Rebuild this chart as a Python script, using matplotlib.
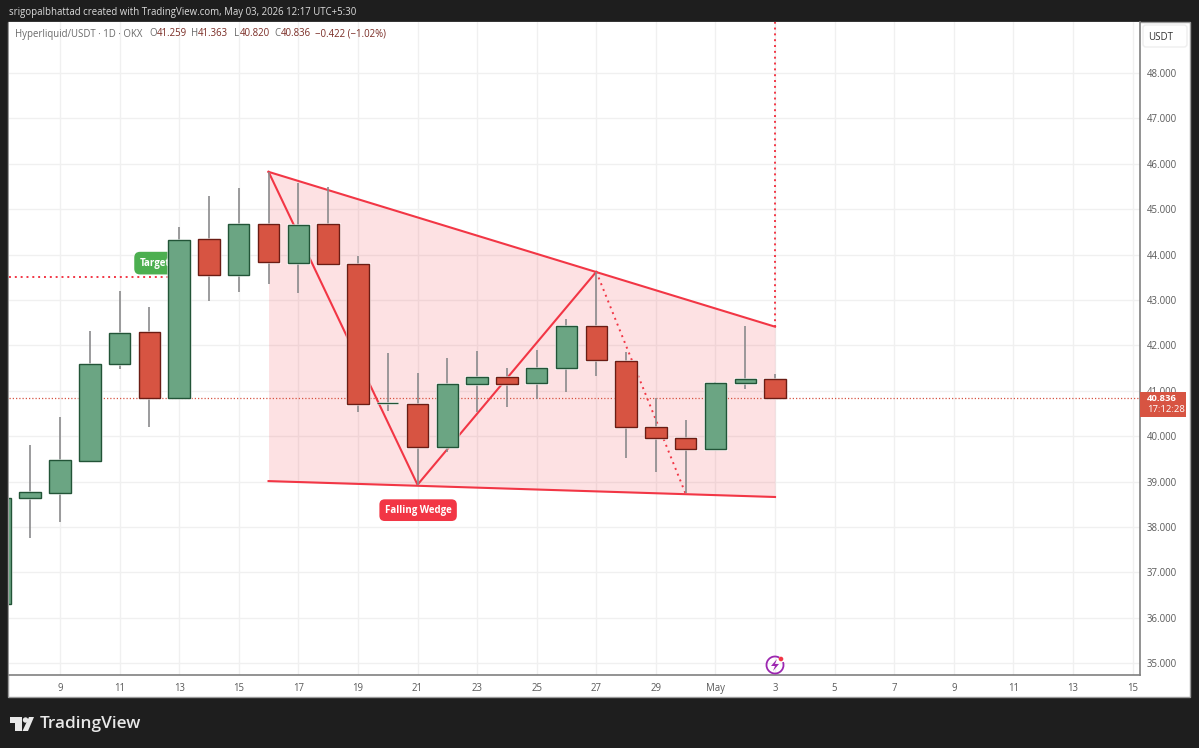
import matplotlib
matplotlib.use('Agg')
import matplotlib.pyplot as plt
from matplotlib.patches import Rectangle, FancyBboxPatch, Polygon, Circle, Arc
from matplotlib.transforms import Affine2D

plt.rcParams['font.family'] = ['Open Sans', 'DejaVu Sans']

# days are counted from 1 April, so 31 is 1 May
days = list(range(7, 34))
opens = [36.30, 38.64, 38.75, 39.45, 41.59, 42.30, 40.84, 44.34, 43.55, 44.67, 43.82, 44.67, 43.80, 40.72,
         40.71, 39.76, 41.15, 41.30, 41.17, 41.50, 42.43, 41.66, 40.20, 39.96, 39.72, 41.17, 41.259]
highs = [38.70, 39.81, 40.42, 42.32, 43.20, 42.85, 44.60, 45.29, 45.47, 45.82, 45.58, 45.49, 43.97, 41.83,
         41.39, 41.72, 41.88, 41.50, 41.90, 42.58, 43.62, 41.85, 40.84, 40.36, 41.20, 42.43, 41.363]
lows = [36.10, 37.76, 38.11, 39.45, 41.48, 40.20, 40.82, 42.98, 43.18, 43.35, 43.15, 43.77, 40.53, 40.55,
        38.93, 39.65, 40.53, 40.64, 40.82, 40.97, 41.33, 39.52, 39.21, 38.75, 39.72, 41.04, 40.820]
closes = [38.64, 38.77, 39.48, 41.59, 42.27, 40.84, 44.32, 43.55, 44.67, 43.84, 44.65, 43.80, 40.71, 40.74,
          39.76, 41.15, 41.30, 41.15, 41.50, 42.43, 41.68, 40.20, 39.96, 39.72, 41.17, 41.26, 40.836]

wedge_top_x = [16, 33]
wedge_top_y = [45.82, 42.41]
wedge_bot_x = [16, 33]
wedge_bot_y = [39.01, 38.66]
swing_x = [16, 21, 27]
swing_y = [45.82, 38.93, 43.62]
dotted_x = [27, 30]
dotted_y = [43.62, 38.73]
target_price = 43.50
last_price = 40.836

price_ticks = list(range(35, 49))
time_ticks = list(range(9, 46, 2))
time_labels = ['9', '11', '13', '15', '17', '19', '21', '23', '25', '27', '29', 'May',
               '3', '5', '7', '9', '11', '13', '15']

GREEN, GREEN_EDGE = '#6ba583', '#225437'
RED, RED_EDGE = '#d75442', '#6b1c14'
WEDGE = '#f23645'
WICK = '#8a8a8c'
BG = '#1e1e1e'

fig = plt.figure(figsize=(11.99, 7.48), dpi=100, facecolor=BG)
W, H = 1199, 748
px = Affine2D().scale(1, -1).translate(0, H)

# white panels of the price and time scales
fig.add_artist(Rectangle((8, 22), 1182, 675, transform=px, fc='white', ec='#9a9a9a', lw=1, zorder=0))

ax = fig.add_axes([9 / W, 1 - 675 / H, 1131 / W, 653 / H], zorder=2)
ax.set_xlim(7.288, 45.25)
ax.set_ylim(34.74, 49.12)
ax.set_facecolor('white')
for s in ['top', 'left']:
    ax.spines[s].set_visible(False)
for s in ['right', 'bottom']:
    ax.spines[s].set_color('#808080')
    ax.spines[s].set_linewidth(1.2)

ax.yaxis.tick_right()
ax.set_yticks(price_ticks)
ax.set_yticklabels(['%d.000' % p for p in price_ticks], fontsize=6.9, color='#5a5a5a')
ax.set_xticks(time_ticks)
ax.set_xticklabels(time_labels, fontsize=6.9, color='#5a5a5a')
ax.tick_params(axis='both', length=0)
ax.tick_params(axis='y', pad=5)
ax.tick_params(axis='x', pad=6)
ax.grid(True, color='#f0f0f0', lw=1.0, zorder=0)
ax.set_axisbelow(True)

# wedge drawing
ax.fill_between(wedge_top_x, wedge_bot_y, wedge_top_y, color=WEDGE, alpha=0.15, lw=0, zorder=1)
ax.plot(wedge_top_x, wedge_top_y, color=WEDGE, lw=1.5, zorder=2)
ax.plot(wedge_bot_x, wedge_bot_y, color=WEDGE, lw=1.5, zorder=2)
ax.plot(swing_x, swing_y, color=WEDGE, lw=1.5, zorder=2)
ax.plot(dotted_x, dotted_y, color=WEDGE, lw=1.4, ls=(0, (1, 2.2)), zorder=2)
ax.plot([ax.get_xlim()[0], 13], [target_price, target_price], color=WEDGE, lw=1.4, ls=(0, (1, 2)), zorder=2)
ax.plot([wedge_top_x[1], wedge_top_x[1]], [wedge_top_y[1], ax.get_ylim()[1]], color=WEDGE, lw=1.4,
        ls=(0, (1, 2)), zorder=2)
ax.axhline(last_price, color=RED, lw=0.9, ls=(0, (1, 1.6)), zorder=2)

ax.text(12.2, 43.81, 'Target', color='white', fontsize=7, fontweight='bold', ha='center', va='center', zorder=3,
        bbox=dict(boxstyle='round,pad=0.6', fc='#4caf50', ec='none'))
ax.text(21.02, 38.37, 'Falling Wedge', color='white', fontsize=7, fontweight='bold', ha='center', va='center',
        zorder=3, bbox=dict(boxstyle='round,pad=0.55', fc=WEDGE, ec='none'))

# candles
ax.vlines(days, lows, highs, color=WICK, lw=1.2, zorder=4)
for d, o, c in zip(days, opens, closes):
    up = c >= o
    low = min(o, c)
    size = abs(c - o)
    ax.bar(d, size, bottom=low, width=0.72, color='white', ec='white', lw=2.2, alpha=0.6, zorder=4.5)
    ax.bar(d, size, bottom=low, width=0.72, color=GREEN if up else RED, ec=GREEN_EDGE if up else RED_EDGE,
           lw=1.0, zorder=5)

# top strip and legend
fig.text(9, 12, 'srigopalbhattad created with TradingView.com, May 03, 2026 12:17 UTC+5:30', transform=px,
         color='#dcdcdc', fontsize=6.9, va='center')
grey = '#6a6a6a'
val = '#7a2c25'
legend_bits = [(15, 'Hyperliquid/USDT · 1D · OKX', grey), (149, 'O', grey), (157, '41.259', val), (191, 'H', grey),
               (198, '41.363', val), (234, 'L', grey), (240, '40.820', val), (274, 'C', grey), (281, '40.836', val),
               (315, '−0.422 (−1.02%)', val)]
for x, s, c in legend_bits:
    fig.text(x, 34, s, transform=px, color=c, fontsize=6.9, va='center', zorder=6)

# USDT button
fig.add_artist(FancyBboxPatch((1143, 25), 44, 22, boxstyle='round,pad=0,rounding_size=3', transform=px,
                              fc='white', ec='#eeeeee', lw=1, zorder=6))
fig.text(1161, 37, 'USDT', transform=px, color='#333333', fontsize=7, ha='center', va='center', zorder=7)

# last price tag
fig.add_artist(Rectangle((1140, 392), 46, 25, transform=px, fc=RED, ec='none', zorder=6))
fig.text(1147, 398.5, '40.836', transform=px, color='white', fontsize=6.8, fontweight='bold', va='center', zorder=7)
fig.text(1147, 410, '17:12:28', transform=px, color='white', fontsize=6.8, va='center', zorder=7)

# lightning icon over the chart
fig.add_artist(Arc((775, 665), 17, 17, transform=px, theta1=-20, theta2=300, color='#9c27b0', lw=1.3, zorder=6))
fig.add_artist(Polygon([(777, 659), (771, 666), (775, 666), (773, 671), (779, 664), (775, 664)], transform=px,
                       fc='#9c27b0', ec='none', zorder=6))
fig.add_artist(Circle((781, 659), 2.3, transform=px, fc=WEDGE, ec='none', zorder=7))

# TradingView logo
fig.add_artist(Polygon([(10, 717), (22, 717), (22, 731), (15, 731), (15, 723), (10, 723)], transform=px,
                       fc='#e8e8e8', ec='none', zorder=6))
fig.add_artist(Circle((25.5, 720), 2.7, transform=px, fc='#e8e8e8', ec='none', zorder=6))
fig.add_artist(Polygon([(29, 717), (34, 717), (28, 731), (22.5, 731)], transform=px, fc='#e8e8e8', ec='none',
                       zorder=6))
fig.text(40, 723.5, 'TradingView', transform=px, color='#e8e8e8', fontsize=12.4, fontweight='semibold',
         va='center', zorder=6)

fig.savefig('out.png', dpi=100, facecolor=BG)
